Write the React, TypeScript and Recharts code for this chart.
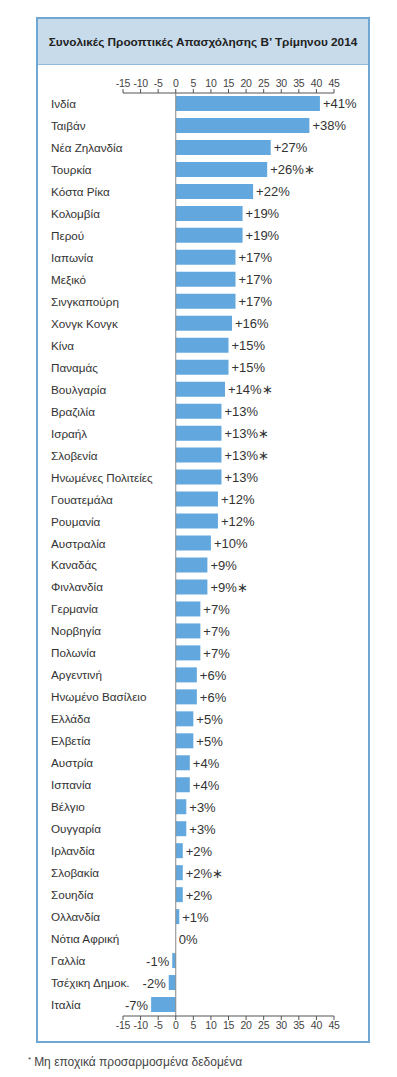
import { ComposedChart, Bar, Scatter, XAxis, YAxis, ReferenceLine } from 'recharts';

const countries = [
  'Ινδία', 'Ταιβάν', 'Νέα Ζηλανδία', 'Τουρκία', 'Κόστα Ρίκα', 'Κολομβία', 'Περού',
  'Ιαπωνία', 'Μεξικό', 'Σινγκαπούρη', 'Χονγκ Κονγκ', 'Κίνα', 'Παναμάς', 'Βουλγαρία',
  'Βραζιλία', 'Ισραήλ', 'Σλοβενία', 'Ηνωμένες Πολιτείες', 'Γουατεμάλα', 'Ρουμανία',
  'Αυστραλία', 'Καναδάς', 'Φινλανδία', 'Γερμανία', 'Νορβηγία', 'Πολωνία', 'Αργεντινή',
  'Ηνωμένο Βασίλειο', 'Ελλάδα', 'Ελβετία', 'Αυστρία', 'Ισπανία', 'Βέλγιο', 'Ουγγαρία',
  'Ιρλανδία', 'Σλοβακία', 'Σουηδία', 'Ολλανδία', 'Νότια Αφρική', 'Γαλλία',
  'Τσέχικη Δημοκ.', 'Ιταλία',
];

const outlook = [
  41, 38, 27, 26, 22, 19, 19, 17, 17, 17, 16, 15, 15, 14, 13, 13, 13, 13, 12, 12,
  10, 9, 9, 7, 7, 7, 6, 6, 5, 5, 4, 4, 3, 3, 2, 2, 2, 1, 0, -1, -2, -7,
];

// not seasonally adjusted
const unadjusted = ['Τουρκία', 'Βουλγαρία', 'Ισραήλ', 'Σλοβενία', 'Φινλανδία', 'Σλοβακία'];

const axisTicks = [-15, -10, -5, 0, 5, 10, 15, 20, 25, 30, 35, 40, 45];

const data = countries.map((name, i) => ({
  name,
  value: outlook[i],
  label:
    (outlook[i] > 0 ? '+' : '') + outlook[i] + '%' + (unadjusted.includes(name) ? '∗' : ''),
}));

const FONT = '"Liberation Sans", Arial, Helvetica, sans-serif';
const BLUE = '#62a8de';

function CountryTick(props: any) {
  const { y, payload } = props;
  return (
    <text x={51} y={y} dy={4} textAnchor="start" fontSize={11.7} fill="#333" fontFamily={FONT}>
      {payload.value}
    </text>
  );
}

// value label drawn at the bar end (scatter point sits on the value)
function ValueLabel(props: any) {
  const { cx, cy, payload } = props;
  if (cx == null || cy == null) return null;
  const neg = payload.value < 0;
  return (
    <text
      x={neg ? cx - 3 : cx + 3}
      y={cy}
      dy={4.5}
      textAnchor={neg ? 'end' : 'start'}
      fontSize={13}
      fill="#333"
      fontFamily={FONT}
    >
      {payload.label}
    </text>
  );
}

const tickStyle = { fontSize: 10.5, fill: '#444', fontFamily: FONT, letterSpacing: -0.3 };

export default function App() {
  return (
    <div style={{ position: 'absolute', left: 0, top: 0, width: 397, height: 1077, background: '#fff', fontFamily: FONT }}>
      <div
        style={{
          position: 'absolute',
          left: 36,
          top: 17,
          width: 330,
          height: 1022,
          border: '2px solid #6fa7d4',
          background: '#fff',
        }}
      >
        <div
          style={{
            height: 45,
            background: '#c8dbeb',
            borderBottom: '1px solid #8fbadd',
            display: 'flex',
            alignItems: 'center',
            justifyContent: 'center',
            fontSize: 11.8,
            fontWeight: 'bold',
            color: '#222',
            whiteSpace: 'nowrap',
          }}
        >
          Συνολικές Προοπτικές Απασχόλησης Β’ Τρίμηνου 2014
        </div>
      </div>
      <div style={{ position: 'absolute', left: 0, top: 0 }}>
        <ComposedChart
          width={397}
          height={1077}
          data={data}
          layout="vertical"
          margin={{ top: 70, right: 63, bottom: 40, left: 0 }}
        >
          <XAxis
            xAxisId="top"
            orientation="top"
            type="number"
            dataKey="value"
            domain={[-15, 45]}
            ticks={axisTicks}
            interval={0}
            height={23}
            tickSize={4}
            tickMargin={2}
            stroke="#555"
            tick={tickStyle}
          />
          <XAxis
            xAxisId="bottom"
            orientation="bottom"
            type="number"
            dataKey="value"
            domain={[-15, 45]}
            ticks={axisTicks}
            interval={0}
            height={21}
            tickSize={4}
            tickMargin={2}
            stroke="#555"
            tick={tickStyle}
          />
          <YAxis
            type="category"
            dataKey="name"
            width={123}
            axisLine={false}
            tickLine={false}
            interval={0}
            tick={<CountryTick />}
          />
          <ReferenceLine xAxisId="top" x={0} stroke="#888" strokeWidth={1} />
          <Bar xAxisId="top" dataKey="value" fill={BLUE} barSize={15} isAnimationActive={false} />
          <Scatter
            xAxisId="bottom"
            dataKey="value"
            shape={<ValueLabel />}
            isAnimationActive={false}
          />
        </ComposedChart>
      </div>
      <div style={{ position: 'absolute', left: 28, top: 1055, fontSize: 12, color: '#444', whiteSpace: 'nowrap' }}>
        <span style={{ fontSize: 8, verticalAlign: 'top', marginRight: 3 }}>*</span>
        Μη εποχικά προσαρμοσμένα δεδομένα
      </div>
    </div>
  );
}
